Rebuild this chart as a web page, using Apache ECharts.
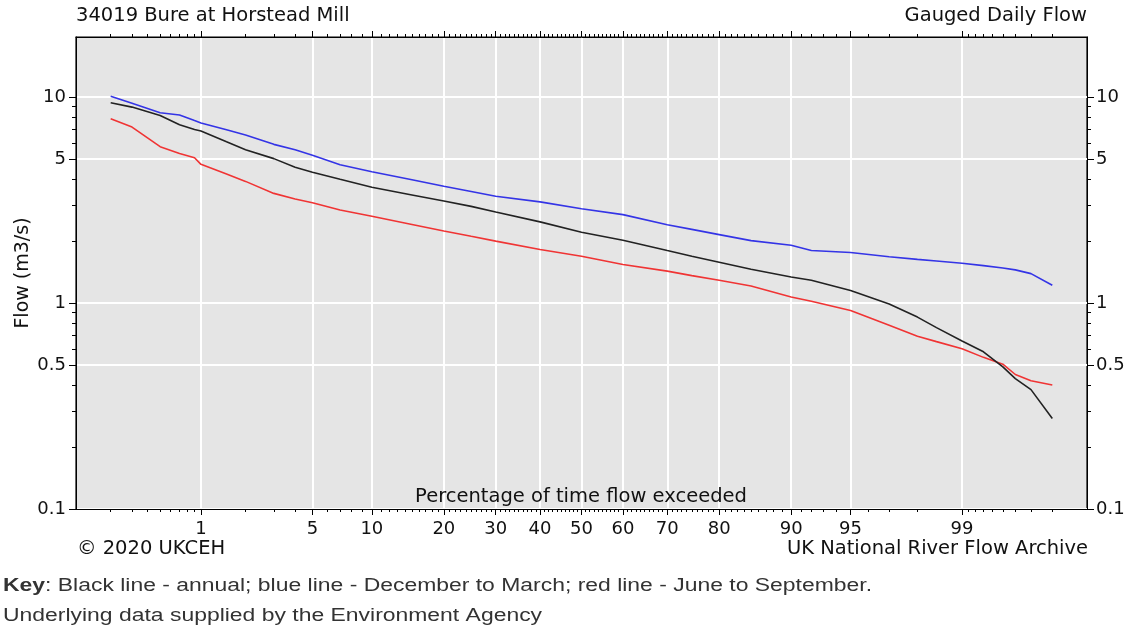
<!DOCTYPE html>
<html><head><meta charset="utf-8">
<script src="https://cdn.jsdelivr.net/npm/echarts@6/dist/echarts.min.js"></script>
<style>html,body{margin:0;padding:0;background:#fff}#c{width:1135px;height:630px}</style>
</head><body><div id="c"></div>
<script>
// ---- data (percentage of time flow exceeded, flow in m3/s) ----
const percentExceeded = [0.2,0.3,0.5,0.7,0.9,1,1.5,2,3,4,5,7,10,15,20,25,30,40,50,60,70,75,80,85,90,92,95,97,98,98.5,99,99.3,99.5,99.6,99.7,99.8];
const flowAnnual = [9.4,8.95,8.15,7.35,6.96,6.85,6.07,5.55,5.03,4.57,4.32,3.99,3.65,3.35,3.13,2.95,2.77,2.48,2.21,2.02,1.80,1.69,1.58,1.46,1.34,1.29,1.15,0.99,0.855,0.76,0.655,0.58,0.49,0.43,0.38,0.275];
const flowDecMar = [10.1,9.35,8.4,8.2,7.7,7.5,6.95,6.55,5.9,5.55,5.22,4.70,4.34,3.97,3.69,3.48,3.30,3.10,2.87,2.69,2.40,2.28,2.15,2.01,1.91,1.80,1.76,1.68,1.63,1.60,1.56,1.52,1.48,1.45,1.39,1.22];
const flowJunSep = [7.86,7.16,5.75,5.33,5.08,4.72,4.24,3.9,3.41,3.2,3.07,2.83,2.64,2.41,2.24,2.11,2.00,1.82,1.69,1.54,1.43,1.36,1.29,1.21,1.07,1.02,0.92,0.78,0.69,0.65,0.60,0.545,0.505,0.45,0.42,0.40];

const xTickPercents = [1,5,10,20,30,40,50,60,70,80,90,95,99];
const xTickLabels = ['1','5','10','20','30','40','50','60','70','80','90','95','99'];
const xRangePercents = [0.1, 99.9];
const yTickValues = [0.1,0.5,1,5,10];
const yTickLabels = ['0.1','0.5','1','5','10'];
const yMinorValues = [0.2,0.3,0.4,0.6,0.7,0.8,0.9,2,3,4,6,7,8,9];
const yRange = [0.1, 19.6];

// minor percentage ticks
const xMinorPercents = [];
[0.2,0.3,0.4,0.5,0.6,0.7,0.8,0.9,2,3,4,6,7,8,9].forEach(v=>xMinorPercents.push(v));
for (let d = 10; d < 90; d += 10) for (let k = 1; k < 10; k++) xMinorPercents.push(d + k);
[91,92,93,94,96,97,98,99.1,99.2,99.3,99.4,99.5,99.6,99.7,99.8].forEach(v=>xMinorPercents.push(v));

// ---- normal probability transform (inverse normal CDF, Acklam) ----
function normInv(p){
  const a=[-3.969683028665376e+01,2.209460984245205e+02,-2.759285104469687e+02,1.383577518672690e+02,-3.066479806614716e+01,2.506628277459239e+00];
  const b=[-5.447609879822406e+01,1.615858368580409e+02,-1.556989798598866e+02,6.680131188771972e+01,-1.328068155288572e+01];
  const c=[-7.784894002430293e-03,-3.223964580411365e-01,-2.400758277161838e+00,-2.549732539343734e+00,4.374664141464968e+00,2.938163982698783e+00];
  const d=[7.784695709041462e-03,3.224671290700398e-01,2.445134137142996e+00,3.754408661907416e+00];
  const pl=0.02425, ph=1-pl; let q,r;
  if(p<pl){q=Math.sqrt(-2*Math.log(p));return (((((c[0]*q+c[1])*q+c[2])*q+c[3])*q+c[4])*q+c[5])/((((d[0]*q+d[1])*q+d[2])*q+d[3])*q+1);}
  if(p<=ph){q=p-0.5;r=q*q;return (((((a[0]*r+a[1])*r+a[2])*r+a[3])*r+a[4])*r+a[5])*q/(((((b[0]*r+b[1])*r+b[2])*r+b[3])*r+b[4])*r+1);}
  q=Math.sqrt(-2*Math.log(1-p));return -(((((c[0]*q+c[1])*q+c[2])*q+c[3])*q+c[4])*q+c[5])/((((d[0]*q+d[1])*q+d[2])*q+d[3])*q+1);
}
const px = p => normInv(p/100);
const ly = v => Math.log10(v);

const xMin = px(xRangePercents[0]), xMax = px(xRangePercents[1]);
const yMin = ly(yRange[0]), yMax = ly(yRange[1]);
const xMajor = xTickPercents.map(px);
const xMinor = xMinorPercents.map(px).filter(v => v > xMin && v < xMax);
const yMajor = yTickValues.map(ly);
const yMinor = yMinorValues.map(ly);

function nearestLabel(val, vals, labels){
  let bi = 0, bd = Infinity;
  vals.forEach((v,i)=>{const dd=Math.abs(v-val); if(dd<bd){bd=dd;bi=i;}});
  return labels[bi];
}
const toPts = arr => percentExceeded.map((p,i)=>[px(p), ly(arr[i])]);

const FONT = 'DejaVu Sans';
const black = '#000';
const tickLbl = {fontFamily: FONT, fontSize: 18, color: '#111'};
const txt = {fontFamily:FONT, fontSize:19.5, fontWeight:'normal', color:'#111'};

function xAx(extra){
  return Object.assign({
    type:'value', min:xMin, max:xMax, gridIndex:0,
    axisLine:{show:false, onZero:false, lineStyle:{color:black, width:1}},
    axisTick:{show:false},
    axisLabel:{show:false},
    splitLine:{show:false}
  }, extra);
}
function yAx(extra){
  return Object.assign({
    type:'value', min:yMin, max:yMax, gridIndex:0,
    axisLine:{show:false, onZero:false, lineStyle:{color:black, width:1}},
    axisTick:{show:false},
    axisLabel:{show:false},
    splitLine:{show:false}
  }, extra);
}

const chart = echarts.init(document.getElementById('c'));
chart.setOption({
  animation:false,
  backgroundColor:'#fff',
  grid:{left:76, right:48, top:37, bottom:121, show:true, backgroundColor:'#e5e5e5', borderWidth:1.2, borderColor:'#000'},
  title:[
    {text:'34019 Bure at Horstead Mill', left:76, top:6, padding:0, textStyle:txt},
    {text:'Gauged Daily Flow', right:48, top:6, padding:0, textStyle:txt},
    {text:'Percentage of time flow exceeded', left:581, textAlign:'center', top:487, padding:0, textStyle:txt},
    {text:'\u00a9 2020 UKCEH', left:77, top:539, padding:0, textStyle:txt},
    {text:'UK National River Flow Archive', right:47, top:539, padding:0, textStyle:txt}
  ],
  graphic:[
    {type:'text', x:3, y:586, scaleX:1.31, style:{
      text:'{b|Key}: Black line - annual; blue line - December to March; red line - June to September.',
      font:'17.5px "Liberation Sans"', fill:'#333', verticalAlign:'middle',
      rich:{b:{fontWeight:'bold', fontSize:17.5, fontFamily:'Liberation Sans', fill:'#333'}}
    }},
    {type:'text', x:3, y:616, scaleX:1.31, style:{
      text:'Underlying data supplied by the Environment Agency',
      font:'17.5px "Liberation Sans"', fill:'#333', verticalAlign:'middle'
    }}
  ],
  xAxis:[
    xAx({position:'bottom',
      axisLine:{show:true, onZero:false, lineStyle:{color:black, width:1}},
      axisTick:{show:true, customValues:xMajor, length:6, lineStyle:{color:black}},
      axisLabel:{show:true, customValues:xMajor, margin:11, formatter:v=>nearestLabel(v,xMajor,xTickLabels), ...tickLbl},
      splitLine:{show:true, lineStyle:{color:'#fff', width:2}}
    }),
    xAx({position:'bottom', axisTick:{show:true, customValues:xMinor, length:3, lineStyle:{color:black}}}),
    xAx({position:'top',
      axisLine:{show:true, onZero:false, lineStyle:{color:black, width:1}},
      axisTick:{show:true, customValues:xMajor, length:6, lineStyle:{color:black}}}),
    xAx({position:'top', axisTick:{show:true, customValues:xMinor, length:3, lineStyle:{color:black}}})
  ],
  yAxis:[
    yAx({position:'left',
      axisLine:{show:true, onZero:false, lineStyle:{color:black, width:1}},
      axisTick:{show:true, customValues:yMajor, length:7, lineStyle:{color:black}},
      axisLabel:{show:true, customValues:yMajor, margin:10, formatter:v=>nearestLabel(v,yMajor,yTickLabels), ...tickLbl},
      splitLine:{show:true, lineStyle:{color:'#fff', width:2}},
      name:'Flow (m3/s)', nameLocation:'middle', nameGap:43, nameMoveOverlap:false,
      nameTextStyle:{fontFamily:FONT, fontSize:19, color:'#111'}
    }),
    yAx({position:'left', axisTick:{show:true, customValues:yMinor, length:4, lineStyle:{color:black}}}),
    yAx({position:'right',
      axisLine:{show:true, onZero:false, lineStyle:{color:black, width:1}},
      axisTick:{show:true, customValues:yMajor, length:7, lineStyle:{color:black}},
      axisLabel:{show:true, customValues:yMajor, margin:9, formatter:v=>nearestLabel(v,yMajor,yTickLabels), ...tickLbl}}),
    yAx({position:'right', axisTick:{show:true, customValues:yMinor, length:4, lineStyle:{color:black}}})
  ],
  series:[
    {name:'December to March', type:'line', showSymbol:false, data:toPts(flowDecMar), lineStyle:{color:'#3434e6', width:1.6}, itemStyle:{color:'#3434e6'}, z:3},
    {name:'June to September', type:'line', showSymbol:false, data:toPts(flowJunSep), lineStyle:{color:'#f03434', width:1.6}, itemStyle:{color:'#f03434'}, z:3},
    {name:'Annual', type:'line', showSymbol:false, data:toPts(flowAnnual), lineStyle:{color:'#222', width:1.6}, itemStyle:{color:'#222'}, z:4}
  ]
});
</script></body></html>
